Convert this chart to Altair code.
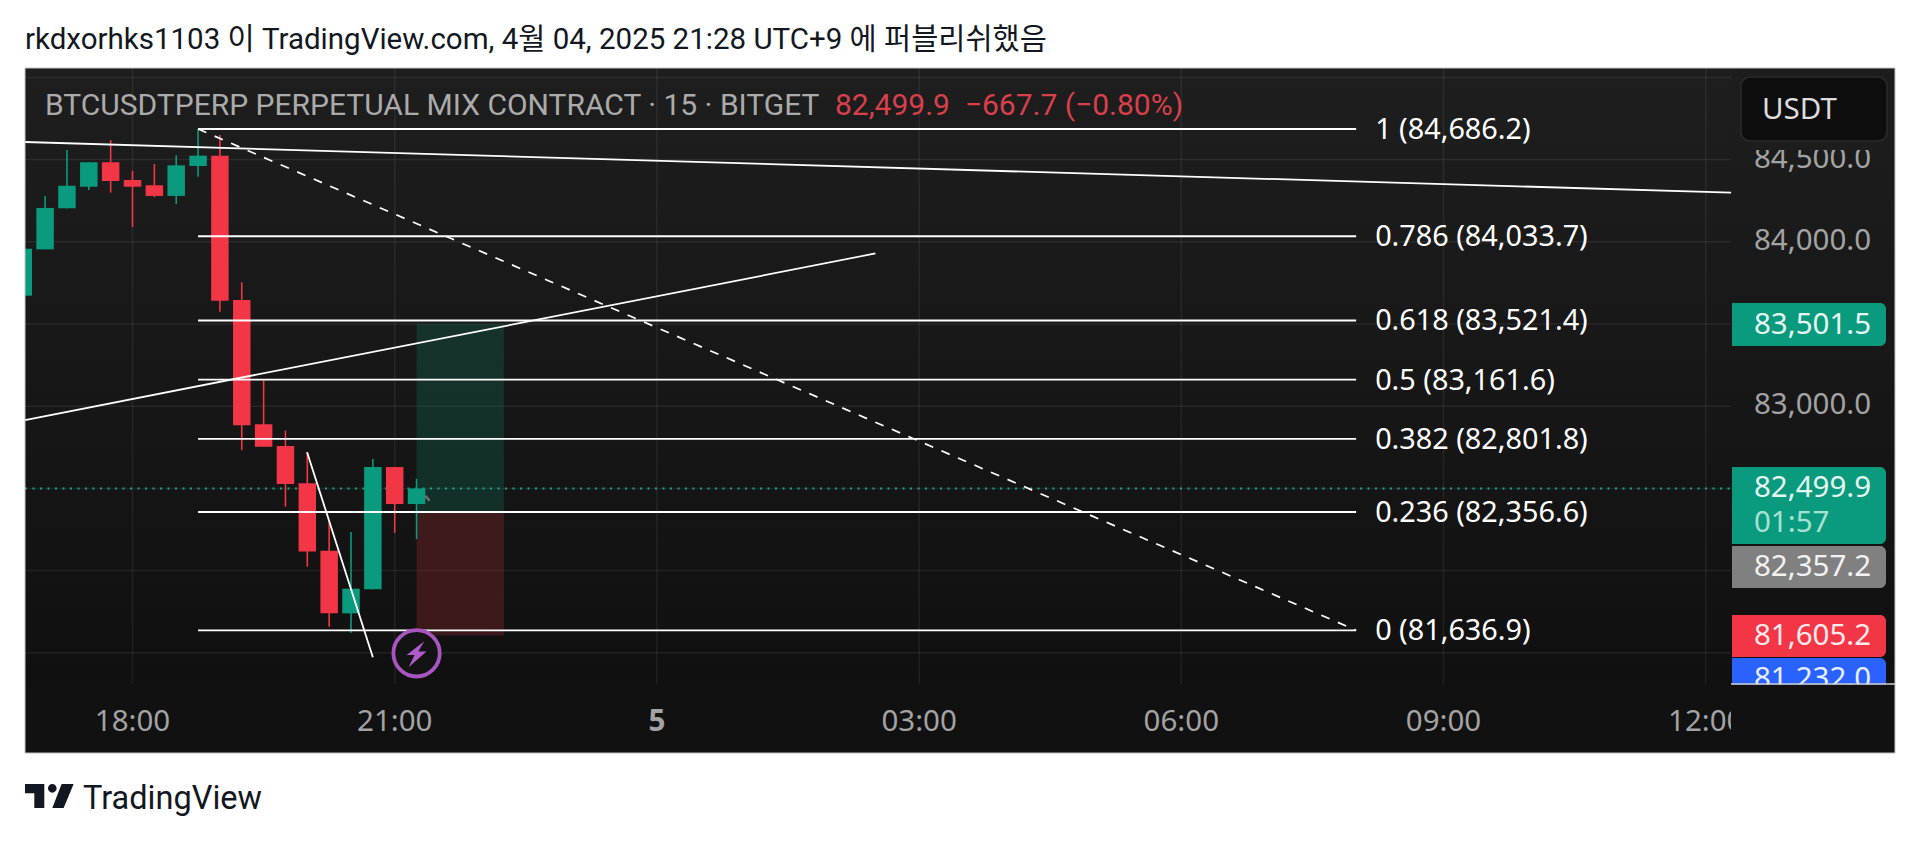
import altair as alt
import pandas as pd

# ---------- values ----------
bars = [-5, -4, -3, -2, -1, 0, 1, 2, 3, 4, 5, 6, 7, 8, 9, 10, 11, 12, 13]
opens = [83672, 83954, 84204, 84335, 84484, 84376, 84344, 84279, 84461, 84524, 83646, 82890, 82758, 82531, 82121, 81740, 81886, 82630, 82405]
highs = [83958, 84279, 84558, 84484, 84619, 84431, 84473, 84526, 84686, 84650, 83754, 83159, 82851, 82721, 82297, 82235, 82679, 82630, 82559]
lows = [83672, 83954, 84204, 84315, 84299, 84090, 84272, 84230, 84396, 83575, 82733, 82754, 82389, 82024, 81659, 81622, 81886, 82230, 82192]
closes = [83958, 84206, 84341, 84484, 84370, 84335, 84279, 84465, 84524, 83642, 82884, 82754, 82527, 82117, 81740, 81890, 82630, 82405, 82500]

fib_levels = [1, 0.786, 0.618, 0.5, 0.382, 0.236, 0]
fib_prices = [84686.2, 84033.7, 83521.4, 83161.6, 82801.8, 82356.6, 81636.9]
fib_start, fib_end = 3, 56

y_ticks = [85000, 84500, 84000, 83500, 83000, 82500, 82000, 81500]
y_label_ticks = [84500, 84000, 83000]
x_ticks = [0, 12, 24, 36, 48, 60, 72]
x_labels = ["18:00", "21:00", "5", "03:00", "06:00", "09:00", "12:00"]

trend_a = [(-4.92, 84607), (73.16, 84299)]
trend_b = [(-4.92, 82916), (34.0, 83929)]
trend_c = [(7.99, 82720), (11.0, 81473)]
cursor_mark = [(13.4, 82455), (13.6, 82425)]

pos_start, pos_end = 13, 17
pos_target, pos_entry, pos_stop = 83501.5, 82357.2, 81605.2
last_price = 82499.9
signal_bar, signal_price = 13, 81497

header = "rkdxorhks1103 이 TradingView.com, 4월 04, 2025 21:28 UTC+9 에 퍼블리쉬했음"
legend_name = "BTCUSDTPERP PERPETUAL MIX CONTRACT · 15 · BITGET"
legend_quote = "82,499.9\u00a0\u00a0−667.7 (−0.80%)"

# ---------- styling ----------
GREEN, RED = "#0a9a7d", "#f23645"
W, H = 1904, 825
xs = alt.Scale(domain=[-5.698, 81.44], range=[0, W], nice=False, zero=False)
ys = alt.Scale(domain=[80404.0, 85422.2], range=[H, 0], nice=False, zero=False)
X = lambda f, **k: alt.X(f, type="quantitative", scale=xs, axis=None, **k)
Y = lambda f, **k: alt.Y(f, type="quantitative", scale=ys, axis=None, **k)
TXT = "Noto Sans"
ONE = pd.DataFrame({"a": [0]})


def px(v):
    return alt.value(v - 8)


def box(x0, x1, y0, y1, **mk):
    return alt.Chart(ONE).mark_rect(**mk).encode(x=px(x0), x2=px(x1), y=px(y0), y2=px(y1))


def label(text, x, y, size, color, font=TXT, align="left", **mk):
    return alt.Chart(pd.DataFrame({"s": [text]})).mark_text(
        fontSize=size, color=color, font=font, align=align, baseline="middle", **mk
    ).encode(x=px(x), y=px(y), text="s:N")


def seg(points, color="white", **mk):
    d = pd.DataFrame(points, columns=["t", "p"])
    return alt.Chart(d).mark_line(color=color, clip=False, **mk).encode(x=X("t"), y=Y("p"))


bg_grad = alt.LinearGradient(gradient="linear", x1=0, x2=0, y1=0, y2=1,
                             stops=[alt.GradientStop(color="#1e1e1e", offset=0),
                                    alt.GradientStop(color="#101010", offset=1)])

layers = []
# pane
layers.append(box(25, 1895, 68, 753, color="#111111"))
layers.append(box(25, 1895, 68, 684, color=bg_grad))

# grid
grid_y = pd.DataFrame({"p": y_ticks})
layers.append(alt.Chart(grid_y).mark_rule(color="white", opacity=0.07, strokeWidth=1.5).encode(
    y=Y("p"), x=px(25), x2=px(1731)))
grid_x = pd.DataFrame({"t": x_ticks})
layers.append(alt.Chart(grid_x).mark_rule(color="white", opacity=0.07, strokeWidth=1.5).encode(
    x=X("t"), y=px(68), y2=px(684)))

# position tool
pos = pd.DataFrame({"a": [pos_start, pos_start], "b": [pos_end, pos_end],
                    "top": [pos_target, pos_entry], "bot": [pos_entry, pos_stop],
                    "k": ["t", "s"]})
layers.append(alt.Chart(pos).mark_rect(opacity=0.2).encode(
    x=X("a"), x2="b", y=Y("top"), y2="bot",
    color=alt.condition("datum.k == 't'", alt.value(GREEN), alt.value(RED))))

# last price line
layers.append(alt.Chart(pd.DataFrame({"p": [last_price]})).mark_rule(
    color="#12a888", strokeDash=[2, 5.5], strokeWidth=2).encode(y=Y("p"), x=px(25), x2=px(1731)))

# candles
candles = pd.DataFrame({"t": bars, "o": opens, "h": highs, "l": lows, "c": closes})
is_up = "datum.c >= datum.o"
base = alt.Chart(candles).transform_calculate(x0="datum.t - 0.4", x1="datum.t + 0.4")
layers.append(base.mark_rule(strokeWidth=1.6).encode(
    x=X("t"), y=Y("l"), y2="h", color=alt.condition(is_up, alt.value(GREEN), alt.value(RED))))
layers.append(base.mark_rect().encode(
    x=X("x0"), x2="x1", y=Y("o"), y2="c", color=alt.condition(is_up, alt.value(GREEN), alt.value(RED))))
layers.append(seg(cursor_mark, color="#707070", strokeWidth=2.5))

# fibonacci
fib = pd.DataFrame({"lvl": fib_levels, "p": fib_prices, "a": fib_start, "b": fib_end})
fib["txt"] = [f"{l} ({p:,.1f})" for l, p in zip(fib_levels, fib_prices)]
layers.append(alt.Chart(fib).mark_rule(color="white", strokeWidth=1.8).encode(x=X("a"), x2="b", y=Y("p")))
layers.append(alt.Chart(fib).mark_text(color="white", font=TXT, fontSize=28.8, align="left", baseline="middle", dx=19, dy=1).encode(
    x=X("b"), y=Y("p"), text="txt:N"))
layers.append(seg([(fib_start, fib_prices[0]), (fib_end, fib_prices[-1])], strokeWidth=1.7, strokeDash=[9, 9]))

# trend lines
layers.append(seg(trend_a, strokeWidth=1.8))
layers.append(seg(trend_b, strokeWidth=1.8))
layers.append(seg(trend_c, strokeWidth=1.8))

# signal icon
sig = pd.DataFrame({"t": [signal_bar], "p": [signal_price]})
layers.append(alt.Chart(sig).mark_point(shape="circle", size=2150, filled=False, fill="#131313", fillOpacity=1,
                                        stroke="#a855c0", strokeWidth=3.8, opacity=1).encode(x=X("t"), y=Y("p")))
layers.append(alt.Chart(sig).mark_point(
    shape="M0.58 -0.9 L-0.75 0.13 L-0.15 0.13 L-0.6 1.05 L0.75 -0.13 L0.13 -0.13 Z",
    size=711, filled=True, color="#b15ccb", opacity=1).encode(x=X("t"), y=Y("p")))

# clip left of pane
layers.append(box(0, 25, 68, 753, color="white"))

# time labels
xl = pd.DataFrame({"t": x_ticks, "s": x_labels})
layers.append(alt.Chart(xl).transform_filter("datum.s != '5'").mark_text(
    color="#a3a3a3", font=TXT, fontSize=29.5, baseline="middle").encode(x=X("t"), y=px(722), text="s:N"))
layers.append(alt.Chart(xl).transform_filter("datum.s == '5'").mark_text(
    color="#a3a3a3", font=TXT, fontSize=29.5, fontWeight="bold", baseline="middle").encode(x=X("t"), y=px(722), text="s:N"))
layers.append(box(1731, 1895, 684, 753, color="#111111"))

# price labels
yl = pd.DataFrame({"p": y_label_ticks})
yl["s"] = [f"{p:,.1f}" for p in y_label_ticks]
layers.append(alt.Chart(yl).mark_text(
    color="#a3a3a3", font=TXT, fontSize=29.5, align="left", baseline="middle", dy=-1).encode(
    x=px(1754), y=Y("p"), text="s:N"))

# currency button
layers.append(box(1732, 1895, 68, 150, color="#1d1d1d"))
layers.append(box(1741, 1887, 77, 141, color="#0e0e0e", stroke="#2b2b2b", strokeWidth=1.5, cornerRadius=9))
layers.append(label("USDT", 1762, 110, 29.5, "#dddddd"))

# price badges
RAD = dict(cornerRadiusTopRight=6, cornerRadiusBottomRight=6)
layers.append(box(1732, 1886, 303, 346, color=GREEN, **RAD))
layers.append(label("83,501.5", 1754, 324.5, 29.5, "#e6f7f2"))
layers.append(box(1732, 1886, 467, 544, color=GREEN, **RAD))
layers.append(label("82,499.9", 1754, 487.5, 29.5, "#e6f7f2"))
layers.append(label("01:57", 1754, 523, 29.5, "#a6e2d4"))
layers.append(box(1732, 1886, 546, 588, color="#808080", **RAD))
layers.append(label("82,357.2", 1754, 566.5, 29.5, "#f2f2f2"))
layers.append(box(1732, 1886, 658, 700, color="#2962ff", **RAD))
layers.append(label("81,232.0", 1754, 679, 29.5, "#e6f0ff"))
layers.append(box(1732, 1886, 615, 657, color=RED, **RAD))
layers.append(label("81,605.2", 1754, 636, 29.5, "#fdeaec"))
layers.append(box(1731, 1895, 684.5, 700, color="#111111"))
layers.append(alt.Chart(ONE).mark_rule(color="#d0d0d0", strokeWidth=1.5).encode(x=px(1731), x2=px(1895), y=px(684)))

# legend line
layers.append(label(legend_name, 45, 106, 30, "#ababab", font="Roboto"))
layers.append(label(legend_quote, 835, 106, 30, "#d9404c", font="Roboto"))

# pane edge
layers.append(box(25, 1895, 68, 753, fillOpacity=0, stroke="#c4c4c4", strokeWidth=1, color="#111111"))

# page header and footer
layers.append(label(header, 25, 40, 29.5, "#131722", font="Roboto, 'Noto Sans CJK KR'"))
layers.append(label("TradingView", 83, 799, 32.5, "#131722", font="Roboto"))
logo = ("M-1 -0.493 L-0.205 -0.493 L-0.205 0.493 L-0.616 0.493 L-0.616 -0.11 L-1 -0.11 Z "
        "M0.507 -0.493 L1 -0.493 L0.589 0.493 L0.123 0.493 Z "
        "M-0.055 -0.315 A0.178 0.178 0 1 0 0.301 -0.315 A0.178 0.178 0 1 0 -0.055 -0.315 Z")
layers.append(alt.Chart(ONE).mark_point(shape=logo, size=2368, filled=True, color="#131722", opacity=1).encode(
    x=px(49.3), y=px(796)))

chart = alt.layer(*layers).properties(
    width=W, height=H, padding=0, background="white",
    autosize=alt.AutoSizeParams(type="none")
).configure_view(strokeWidth=0)

chart.save("out.html", embed_options={"renderer": "svg", "actions": False})
